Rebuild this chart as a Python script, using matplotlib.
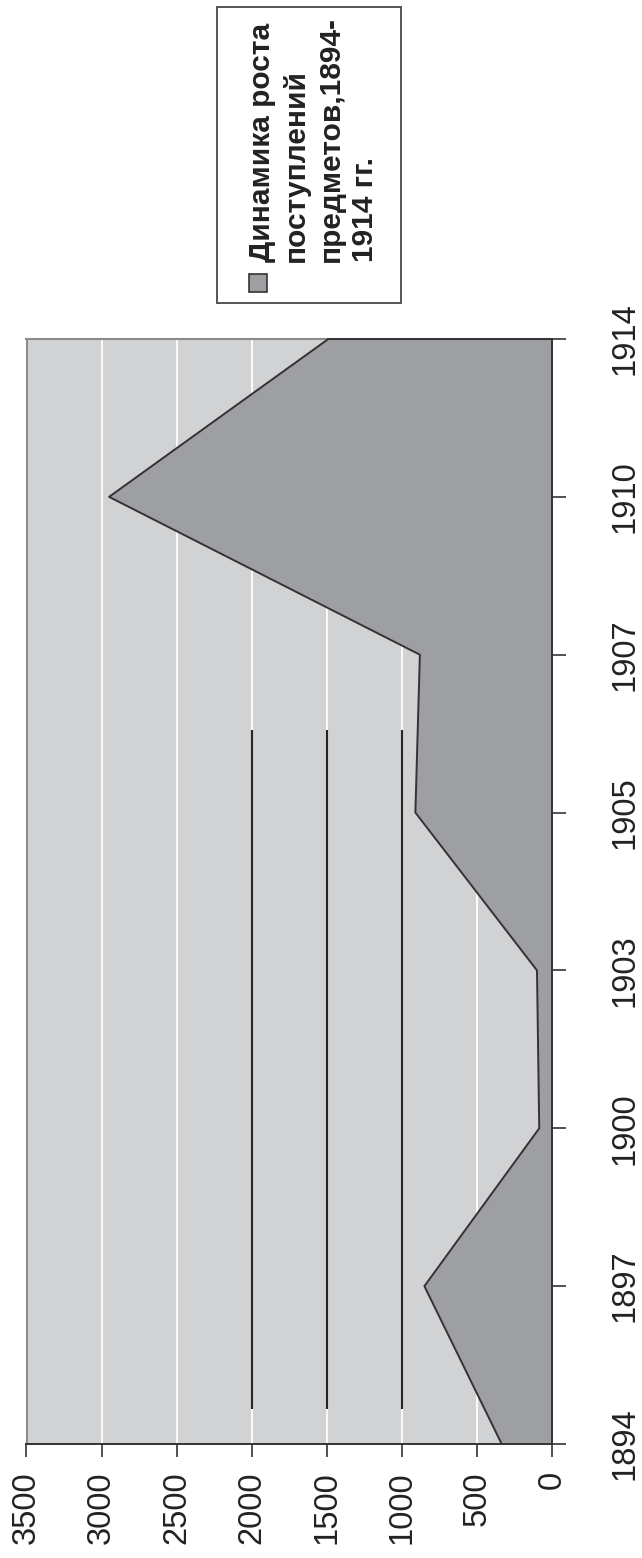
import matplotlib
matplotlib.use('Agg')
import matplotlib.pyplot as plt
from matplotlib.patches import Rectangle

# ---- data ----
years = ['1894', '1897', '1900', '1903', '1905', '1907', '1910', '1914']
values = [335, 850, 85, 100, 910, 880, 2950, 1490]
value_ticks = [0, 500, 1000, 1500, 2000, 2500, 3000, 3500]
value_tick_labels = ['0', '500', '1000', '1500', '2000', '2500', '3000', '3500']
ref_levels = [1000, 1500, 2000]          # dark vertical strokes in the plot
ref_span = (0.22, 4.52)                  # their extent along the category axis
legend_lines = ['Динамика роста', 'поступлений', 'предметов,1894-', '1914 гг.']

plt.rcParams['font.family'] = ['Liberation Sans', 'DejaVu Sans']

W, H = 642, 1558
fig = plt.figure(figsize=(W / 100, H / 100), dpi=100)
fig.patch.set_facecolor('white')


def fx(px):
    return px / W


def fy(py):
    return 1 - py / H


TXT = '#222222'
BG = '#d1d2d4'
FILL = '#9e9fa3'
EDGE = '#333333'
FS = 23.5

ax = fig.add_axes([fx(26.5), fy(1444), fx(552) - fx(26.5), fy(339) - fy(1444)])
ax.set_facecolor(BG)
idx = list(range(len(years)))

# white gridlines
for t in value_ticks[1:-1]:
    ax.axvline(t, color='white', lw=1.3, zorder=1)

# dark reference strokes
for lv in ref_levels:
    ax.plot([lv, lv], list(ref_span), color='#262626', lw=1.5, zorder=1.5,
            solid_capstyle='butt')

# area
ax.fill_betweenx(idx, 0, values, facecolor=FILL, edgecolor='none', zorder=2)
ax.plot(values, idx, color=EDGE, lw=1.4, zorder=3)
ax.plot([values[-1], 0], [idx[-1], idx[-1]], color=EDGE, lw=1.4, zorder=3,
        clip_on=False)

ax.set_xlim(3500, 0)
ax.set_ylim(0, len(years) - 1)

# spines
for s in ['left', 'top']:
    ax.spines[s].set_color('#8c8c8c')
    ax.spines[s].set_linewidth(1.5)
for s in ['bottom', 'right']:
    ax.spines[s].set_color(EDGE)
    ax.spines[s].set_linewidth(1.4)
    ax.spines[s].set_zorder(4)

# value axis (bottom)
ax.set_xticks(value_ticks)
ax.set_xticklabels(value_tick_labels, rotation=90, rotation_mode='anchor',
                   ha='right', va='center', fontsize=FS, color=TXT)
ax.tick_params(axis='x', direction='out', length=9.5, width=1.2, color=EDGE, pad=10)

# category axis (right)
ax.yaxis.tick_right()
ax.set_yticks(idx)
ax.set_yticklabels(years, rotation=90, rotation_mode='anchor',
                   ha='center', va='baseline', fontsize=FS, color=TXT)
ax.tick_params(axis='y', direction='out', length=10, width=1.2, color=EDGE, pad=49)

# legend (drawn rotated)
fig.add_artist(Rectangle((fx(217), fy(303)), fx(401) - fx(217), fy(7) - fy(303),
                         transform=fig.transFigure, facecolor='white',
                         edgecolor='#555555', lw=1.4))
fig.add_artist(Rectangle((fx(249), fy(292)), fx(267) - fx(249), fy(274) - fy(292),
                         transform=fig.transFigure, facecolor=FILL,
                         edgecolor=EDGE, lw=1.2))
baselines = [270, 304, 339, 373]
for line, bx in zip(legend_lines, baselines):
    fig.text(fx(bx), fy(262), line, rotation=90, rotation_mode='anchor',
             ha='left', va='baseline', fontsize=21.5, fontweight='bold', color=TXT)

fig.savefig('out.png', dpi=100)
